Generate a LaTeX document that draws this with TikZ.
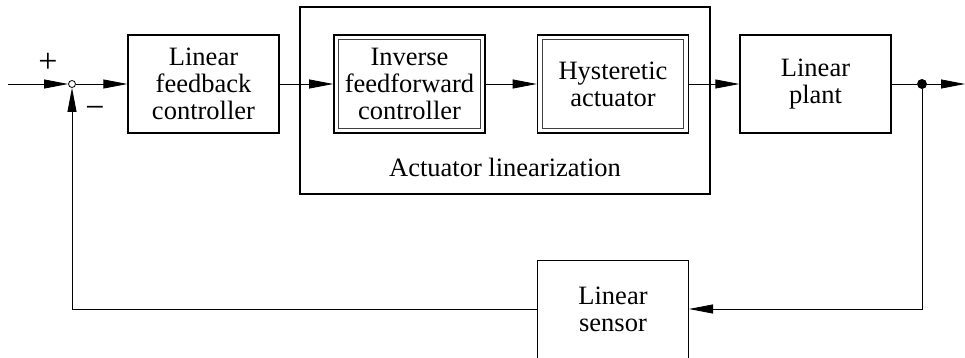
\documentclass[tikz,border=0pt]{standalone}
\usepackage{fontspec}
\setmainfont{Liberation Serif}
\usetikzlibrary{arrows.meta}
\tikzset{
  blk/.style={draw, line width=1.3pt, minimum width=151pt, minimum height=98pt, align=center, inner sep=0pt, font=\fontsize{26.5}{27}\selectfont},
  dblk/.style={blk, line width=1.6pt},
  inner/.style={line width=0.9pt, draw=black!75},
  sig/.style={line width=0.8pt, -{Triangle[length=24pt,width=9pt]}},
  wire/.style={line width=0.8pt},
  lbl/.style={font=\fontsize{26.5}{27}\selectfont, inner sep=0pt},
  sgn/.style={font=\fontsize{34}{34}\selectfont, inner sep=0pt}
}
\begin{document}
\begin{tikzpicture}[x=1pt,y=-1pt]
\useasboundingbox (0,0) rectangle (965,358);
% outer actuator box
\node[draw, line width=1.1pt, minimum width=410pt, minimum height=187pt, inner sep=0pt] (act) at (505,100.5) {};
\node[lbl] (actlbl) at (505,167) {Actuator linearization};
% blocks
\node[blk] (fb) at (203.5,84) {Linear\\feedback\\controller};
\node[dblk] (inv) at (409.5,84) {Inverse\\feedforward\\controller};
\node[dblk] (hys) at (613,84) {Hysteretic\\actuator};
\node[blk] (plant) at (815.5,84) {Linear\\plant};
\node[blk, line width=1pt] (sens) at (613,309) {Linear\\sensor};
\draw[inner] ([shift={(5.5pt,-5.5pt)}]inv.north west) rectangle ([shift={(-5.5pt,5.5pt)}]inv.south east);
\draw[inner] ([shift={(5.5pt,-5.5pt)}]hys.north west) rectangle ([shift={(-5.5pt,5.5pt)}]hys.south east);
% summing junction and nodes
\node[draw, circle, line width=0.8pt, minimum size=7pt, inner sep=0pt] (sum) at (72,84) {};
\coordinate (in) at (8,84);
\node[circle, fill, minimum size=10pt, inner sep=0pt] (dot) at (922,84) {};
\coordinate (out) at (965,84);
\coordinate (fr) at (922,309);
\coordinate (fl) at (72,309);
\node[sgn] (plus) at (48,63) {+};
\node[sgn] (minus) at (95,112) {\textminus};
% connectors
\draw[sig] (in) -- (sum.west);
\draw[sig] (sum.east) -- (fb.west);
\draw[sig] (fb.east) -- (inv.west);
\draw[sig] (inv.east) -- (hys.west);
\draw[sig] (hys.east) -- (plant.west);
\draw[wire] (plant.east) -- (dot);
\draw[sig] (dot) -- (out);
\draw[sig] (dot) -- (fr) -- (sens.east);
\draw[sig] (sens.west) -- (fl) -- (sum.south);
\end{tikzpicture}
\end{document}
